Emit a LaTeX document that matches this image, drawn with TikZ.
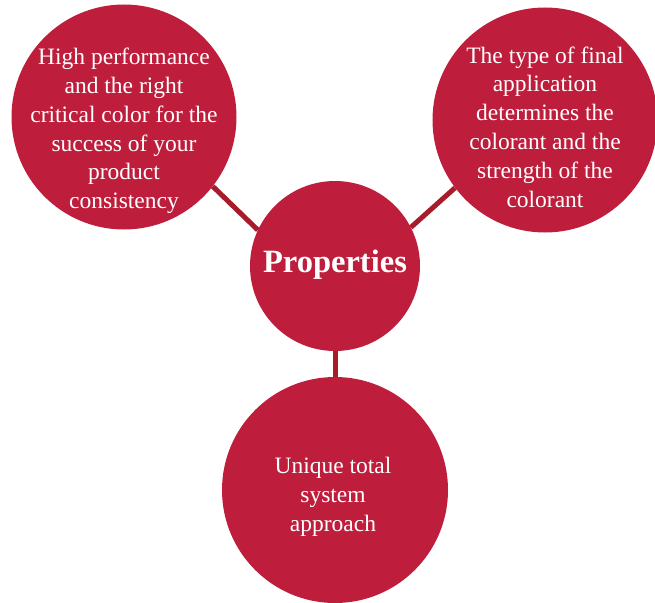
\documentclass[tikz,border=0pt]{standalone}
\usepackage{fontspec}
\setmainfont{Liberation Serif}
\definecolor{disc}{HTML}{BE1E3C}
\definecolor{link}{HTML}{A81C2A}
\begin{document}
\begin{tikzpicture}[x=1pt,y=-1pt,
  disc/.style={circle,fill=disc,draw=none,inner sep=0pt},
  txt/.style={text=white,align=center,font=\fontsize{23.5}{28.8}\selectfont},
  link/.style={draw=link,line width=5pt}]
\useasboundingbox (0,0) rectangle (655,602);
\clip (0,0) rectangle (655,602);
\node[disc,minimum size=225pt] (l) at (124,117) {};
\node[disc,minimum size=225pt] (r) at (545,120) {};
\node[disc,minimum size=170pt] (c) at (335,266) {};
\node[disc,minimum size=226pt] (b) at (335,490) {};
\draw[link] (c.155) -- (l.-38);
\draw[link] (c.27) -- (r.217);
\draw[link] (c.south) -- (b.north);
\node[txt] (lt) at (124,131) {High performance\\and the right\\critical color for the\\success of your\\product\\consistency};
\node[txt] (rt) at (545,127) {The type of final\\application\\determines the\\colorant and the\\strength of the\\colorant};
\node[txt,font=\fontsize{32.5}{36}\selectfont\bfseries] (ct) at (335,265) {Properties};
\node[txt] (bt) at (333,497) {Unique total\\system\\approach};
\end{tikzpicture}
\end{document}
